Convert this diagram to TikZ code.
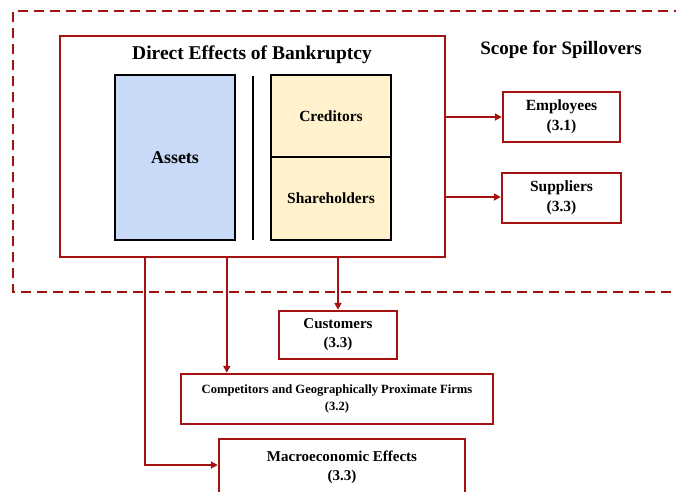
\documentclass[tikz,border=0pt]{standalone}
\usepackage{fontspec}
\setmainfont{Liberation Serif}
\usetikzlibrary{arrows.meta}
\definecolor{dred}{RGB}{165,18,18}
\definecolor{ablue}{RGB}{201,218,248}
\definecolor{cyellow}{RGB}{255,242,204}
\begin{document}
\begin{tikzpicture}[x=1pt,y=-1pt,
  redbox/.style={draw=dred,line width=2.4pt,fill=white,inner sep=0pt,align=center,font=\bfseries},
  blackbox/.style={draw=black,line width=2.4pt,inner sep=0pt,align=center,font=\bfseries},
  arr/.style={draw=dred,line width=2.4pt,-{Triangle[length=7pt,width=7pt]}},
  lbl/.style={font=\bfseries,inner sep=0pt}]
\useasboundingbox (0,0) rectangle (676,491);
% scope dashed box
\draw[dred,line width=2.8pt,dash pattern=on 10pt off 6pt] (700,11) -- (13,11) -- (13,292) -- (700,292);
% main box
\node[redbox,minimum width=385pt,minimum height=221pt] (main) at (252.5,146.5) {};
\node[lbl,font=\bfseries\fontsize{19.5}{23}\selectfont] (title) at (252,55) {Direct Effects of Bankruptcy};
\node[blackbox,fill=ablue,minimum width=120pt,minimum height=165pt,font=\bfseries\fontsize{18}{22}\selectfont] (assets) at (175,157.5) {Assets};
\draw[black,line width=2.4pt] (253,76) -- (253,240);
\node[blackbox,fill=cyellow,minimum width=120pt,minimum height=82pt,font=\bfseries\fontsize{15.5}{19}\selectfont] (cred) at (331,116) {Creditors};
\node[blackbox,fill=cyellow,minimum width=120pt,minimum height=83pt,font=\bfseries\fontsize{15.5}{19}\selectfont] (share) at (331,198.5) {Shareholders};
\node[lbl,font=\bfseries\fontsize{19}{23}\selectfont] (scope) at (561,50) {Scope for Spillovers};
% spillover boxes
\node[redbox,minimum width=117pt,minimum height=50pt,font=\bfseries\fontsize{15.5}{20}\selectfont] (emp) at (561.5,117) {Employees\\(3.1)};
\node[redbox,minimum width=119pt,minimum height=50pt,font=\bfseries\fontsize{15.5}{20}\selectfont] (sup) at (561.5,198) {Suppliers\\(3.3)};
\node[redbox,minimum width=118pt,minimum height=48pt,font=\bfseries\fontsize{15}{19}\selectfont] (cust) at (338,335) {Customers\\(3.3)};
\node[redbox,minimum width=312pt,minimum height=50pt,font=\bfseries\fontsize{12.6}{17}\selectfont] (comp) at (337,399) {Competitors and Geographically Proximate Firms\\(3.2)};
\node[redbox,minimum width=246pt,minimum height=62pt,text depth=0pt] (macro) at (342,470) {};
\node[lbl,align=center,font=\bfseries\fontsize{15}{19}\selectfont] (macrot) at (342,467) {Macroeconomic Effects\\(3.3)};
% connectors
\draw[arr] (emp.west -| main.east) -- (emp.west);
\draw[arr] ([yshift=1pt]sup.west -| main.east) -- ([yshift=1pt]sup.west);
\draw[arr] (main.south -| cust.north) -- (cust.north);
\draw[arr] ([xshift=168pt]main.south west) -- ([xshift=168pt]main.south west |- comp.north);
\draw[arr] ([xshift=86pt]main.south west) |- ([yshift=5pt]macro.west);
\end{tikzpicture}
\end{document}
